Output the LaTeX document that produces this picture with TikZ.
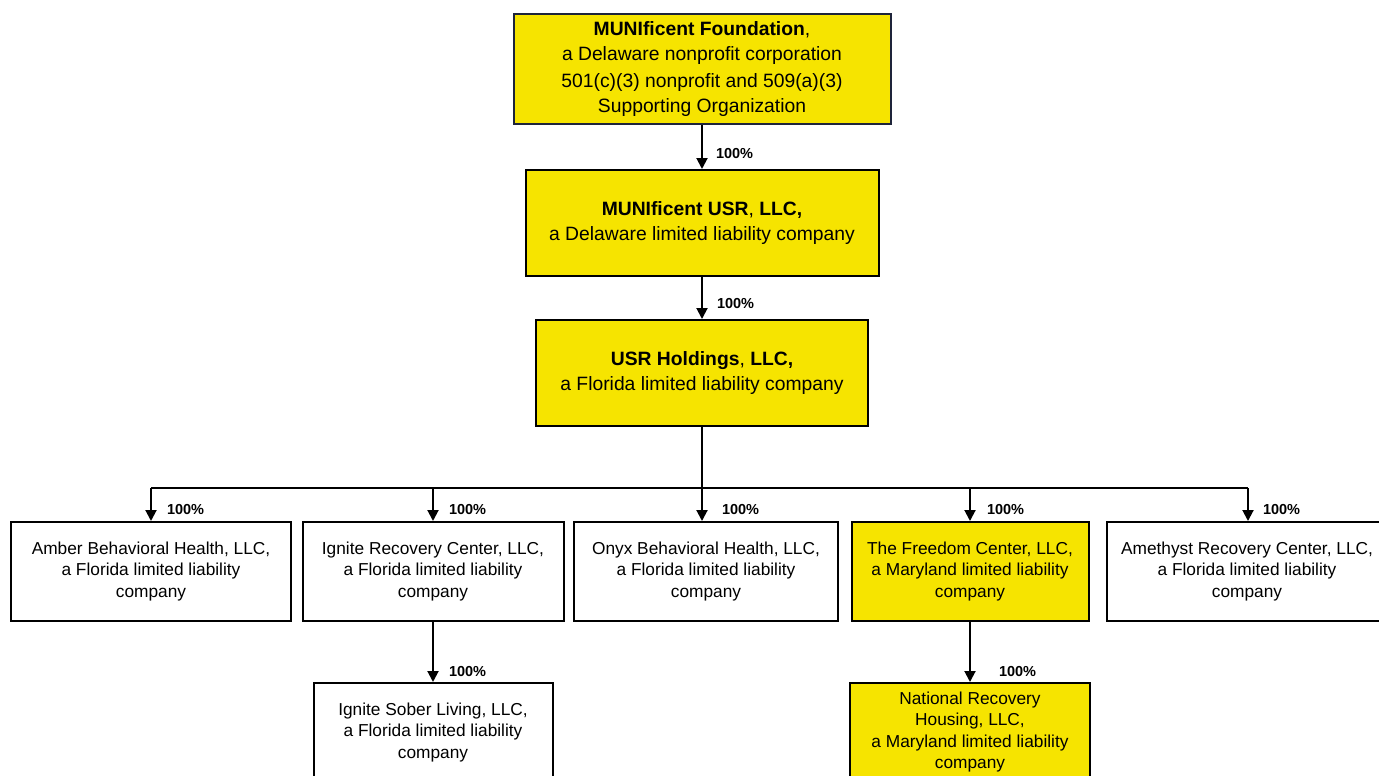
\documentclass[tikz,border=0pt]{standalone}
\usepackage{fontspec}
\setmainfont{Liberation Sans}
\usetikzlibrary{arrows.meta}
\definecolor{hl}{RGB}{246,228,0}
\definecolor{navy}{RGB}{30,36,58}
\begin{document}
\begin{tikzpicture}[x=1pt,y=-1pt,
  box/.style={draw=black,line width=2pt,rectangle,align=center,inner sep=0pt},
  big/.style={font=\fontsize{19.3}{24.5}\selectfont},
  small/.style={font=\fontsize{17.3}{21.5}\selectfont},
  yl/.style={fill=hl},
  arr/.style={line width=2pt,-{Triangle[width=11pt,length=11pt]}},
  wire/.style={line width=2pt},
  pct/.style={font=\fontsize{14.5}{16}\selectfont\bfseries,inner sep=0pt,anchor=west}]
\useasboundingbox (0,0) rectangle (1379,776);
\clip (0,0) rectangle (1379,776);

% top chain
\node[box,big,yl,draw=navy,minimum width=377pt,minimum height=110pt] (found) at (702,69)
  {\textbf{MUNIficent Foundation},\\a Delaware nonprofit corporation\\[3pt]501(c)(3) nonprofit and 509(a)(3)\\Supporting Organization};
\node[box,big,yl,minimum width=353pt,minimum height=106pt] (usr) at (702,223)
  {\textbf{MUNIficent USR}, \textbf{LLC,}\\a Delaware limited liability company};
\node[box,big,yl,minimum width=332pt,minimum height=106pt] (hold) at (702,373)
  {\textbf{USR Holdings}, \textbf{LLC,}\\a Florida limited liability company};

% subsidiaries
\node[box,small,minimum width=280pt,minimum height=99pt] (amber) at (151,571.5)
  {Amber Behavioral Health, LLC,\\a Florida limited liability\\company};
\node[box,small,minimum width=261pt,minimum height=99pt] (ignite) at (433,571.5)
  {Ignite Recovery Center, LLC,\\a Florida limited liability\\company};
\node[box,small,minimum width=264pt,minimum height=99pt] (onyx) at (706,571.5)
  {Onyx Behavioral Health, LLC,\\a Florida limited liability\\company};
\node[box,small,yl,minimum width=237pt,minimum height=99pt] (freedom) at (970,571.5)
  {The Freedom Center, LLC,\\a Maryland limited liability\\company};
\node[box,small,minimum width=280pt,minimum height=99pt] (amethyst) at (1247,571.5)
  {Amethyst Recovery Center, LLC,\\a Florida limited liability\\company};

\node[box,small,minimum width=239pt,minimum height=99pt] (sober) at (433,732.5)
  {Ignite Sober Living, LLC,\\a Florida limited liability\\company};
\node[box,small,yl,minimum width=240pt,minimum height=98pt] (national) at (970,732)
  {National Recovery\\Housing, LLC,\\a Maryland limited liability\\company};

% connectors
\draw[arr] (found.south) -- node[pct,pos=0.65,xshift=13pt]{100\%} (usr.north);
\draw[arr] (usr.south) -- node[pct,pos=0.64,xshift=14pt]{100\%} (hold.north);

\coordinate (b1) at (151,488);
\coordinate (b2) at (433,488);
\coordinate (b3) at (702,488);
\coordinate (b4) at (970,488);
\coordinate (b5) at (1248,488);
\draw[wire] (hold.south) -- (b3);
\draw[wire] (b1) -- (b5);
\draw[arr] (b1) -- node[pct,pos=0.65,xshift=15pt]{100\%} (b1 |- amber.north);
\draw[arr] (b2) -- node[pct,pos=0.65,xshift=15pt]{100\%} (b2 |- ignite.north);
\draw[arr] (b3) -- node[pct,pos=0.65,xshift=19pt]{100\%} (b3 |- onyx.north);
\draw[arr] (b4) -- node[pct,pos=0.65,xshift=16pt]{100\%} (b4 |- freedom.north);
\draw[arr] (b5) -- node[pct,pos=0.65,xshift=14pt]{100\%} (b5 |- amethyst.north);

\draw[arr] (ignite.south) -- node[pct,pos=0.82,xshift=15pt]{100\%} (sober.north);
\draw[arr] (freedom.south) -- node[pct,pos=0.82,xshift=28pt]{100\%} (national.north);
\end{tikzpicture}
\end{document}
